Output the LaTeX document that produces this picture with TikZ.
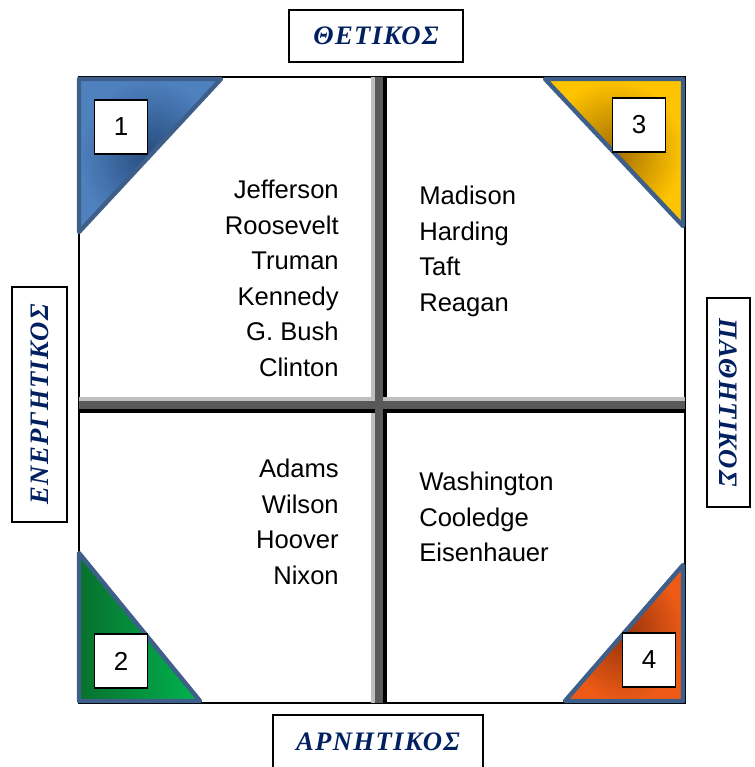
\documentclass[tikz,border=0pt]{standalone}
\usepackage{fontspec}
\setmainfont{Liberation Sans}
\newfontfamily\greekfont[LetterSpace=5]{Liberation Serif}
\usepackage{xcolor}
\usetikzlibrary{positioning}
\definecolor{labelblue}{RGB}{0,32,96}
\definecolor{edgeblue}{RGB}{62,95,138}
\definecolor{blueA}{RGB}{79,129,191}
\definecolor{blueB}{RGB}{38,76,125}
\definecolor{yellowA}{RGB}{255,196,0}
\definecolor{yellowB}{RGB}{165,110,0}
\definecolor{greenA}{RGB}{0,180,80}
\definecolor{greenB}{RGB}{8,112,45}
\definecolor{orangeA}{RGB}{236,90,22}
\definecolor{orangeB}{RGB}{150,52,10}
\tikzstyle{axislabel} = [draw=black, line width=1.2pt, fill=white, text=labelblue, font=\greekfont\bfseries\itshape\fontsize{20}{24}\selectfont]
\tikzstyle{numbox} = [draw=black, line width=1.1pt, fill=white, minimum width=39.5pt, minimum height=40.5pt, inner sep=0pt, font=\fontsize{19.5}{22}\selectfont]
\tikzstyle{names} = [inner sep=0pt, font=\fontsize{19.2}{26.6}\selectfont]
\tikzstyle{corner} = [draw=edgeblue, line width=3.3pt, line join=round, shading=radial]

\begin{document}
\begin{tikzpicture}[x=0.75pt, y=-0.75pt]
    \useasboundingbox (0,0) rectangle (755,767);

    % Outer frame
    \draw[line width=1.5pt] (79,77) rectangle (685,703);

    % Cross bars
    \fill[black!25] (371,77) rectangle (375,703);
    \fill[black!65] (375,77) rectangle (383,703);
    \fill[black] (383,77) rectangle (387,703);
    \fill[black!25] (79,397) rectangle (685,401);
    \fill[black!65] (79,401) rectangle (685,409);
    \fill[black] (79,409) rectangle (685,413);
    \fill[black!65] (375,397) rectangle (383,413);

    % Corner triangles
    \draw[corner, inner color=blueB, outer color=blueA] (79,79) -- (221,79) -- (79,232) -- cycle;
    \draw[corner, inner color=yellowB, outer color=yellowA] (545,79) -- (683,79) -- (683,226) -- cycle;
    \draw[corner, shading=axis, left color=greenB, right color=greenA] (79,553) -- (79,701) -- (200,701) -- cycle;
    \draw[corner, inner color=orangeB, outer color=orangeA] (683,565) -- (683,701) -- (565,701) -- cycle;

    % Number boxes
    \node[numbox] (one) at (121,127) {1};
    \node[numbox] (three) at (639,125) {3};
    \node[numbox] (two) at (121,661) {2};
    \node[numbox] (four) at (649,660) {4};

    % Names
    \node[names, anchor=north east, align=right] (active) at (339,180) {Jefferson\\Roosevelt\\Truman\\Kennedy\\G. Bush\\Clinton};
    \node[names, anchor=north west, align=left] (passive) at (419,186) {Madison\\Harding\\Taft\\Reagan};
    \node[names, anchor=north east, align=right] (negact) at (339,459) {Adams\\Wilson\\Hoover\\Nixon};
    \node[names, anchor=north west, align=left] (negpas) at (419,472) {Washington\\Cooledge\\Eisenhauer};

    % Axis labels
    \node[axislabel, minimum width=130.5pt, minimum height=39pt] (positive) at (376,36) {ΘΕΤΙΚΟΣ};
    \node[axislabel, minimum width=157.5pt, minimum height=40.5pt] (negative) at (378,742) {ΑΡΝΗΤΙΚΟΣ};
    \node[axislabel, rotate=90, minimum width=176pt, minimum height=41pt] (energetic) at (39.5,404.5) {ΕΝΕΡΓΗΤΙΚΟΣ};
    \node[axislabel, rotate=-90, minimum width=156.5pt, minimum height=32pt] (pathetic) at (728.5,402.5) {ΠΑΘΗΤΙΚΟΣ};
\end{tikzpicture}
\end{document}
